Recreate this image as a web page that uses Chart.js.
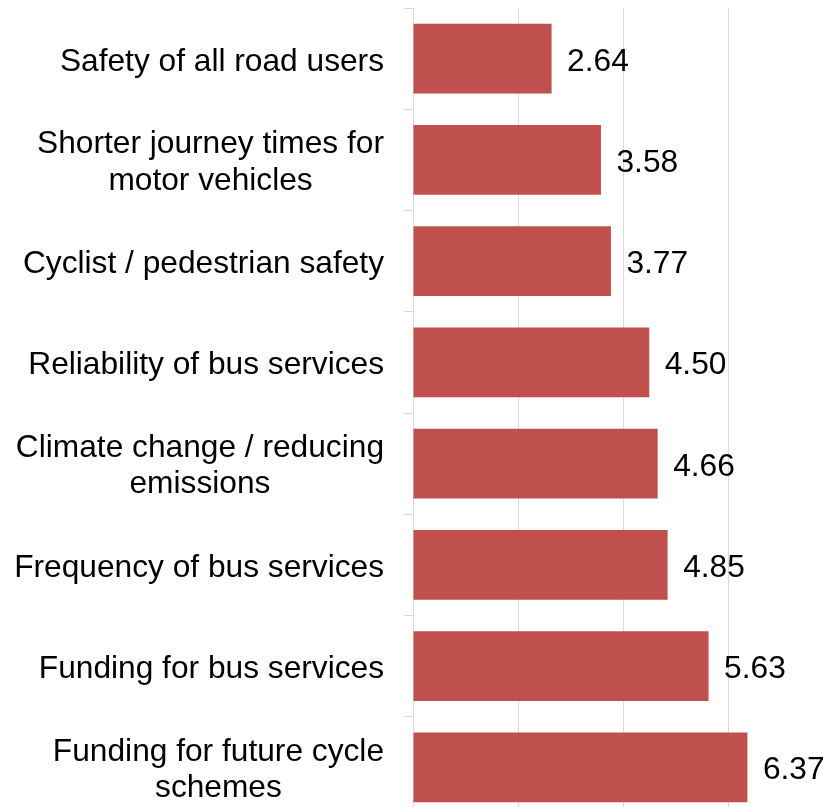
<!DOCTYPE html>
<html>
<head>
<meta charset="utf-8">
<script src="https://cdn.jsdelivr.net/npm/chart.js@4"></script>
<style>
  html, body { margin: 0; padding: 0; background: #fff; overflow: hidden; }
  #wrap { width: 826px; height: 807px; overflow: hidden; position: relative; }
  canvas { display: block; }
</style>
</head>
<body>
<div id="wrap"><canvas id="c" width="834" height="818" style="width:834px;height:818px"></canvas></div>
<script>
const categories = [
  ["Safety of all road users"],
  ["Shorter journey times for", "motor vehicles"],
  ["Cyclist / pedestrian safety"],
  ["Reliability of bus services"],
  ["Climate change / reducing", "emissions"],
  ["Frequency of bus services"],
  ["Funding for bus services"],
  ["Funding for future cycle", "schemes"]
];
const values = [2.64, 3.58, 3.77, 4.50, 4.66, 4.85, 5.63, 6.37];
const valueLabels = ["2.64", "3.58", "3.77", "4.50", "4.66", "4.85", "5.63", "6.37"];
const xTicks = [0, 2, 4, 6, 8];

const FONT = '"Liberation Sans", Arial, sans-serif';
const GRID = '#d9d9d9';

const labelPlugin = {
  id: 'customLabels',
  afterDatasetsDraw(chart) {
    const ctx = chart.ctx;
    const meta = chart.getDatasetMeta(0);
    const yScale = chart.scales.y;
    ctx.save();
    ctx.fillStyle = '#000';
    ctx.font = '31.7px ' + FONT;
    ctx.textBaseline = 'alphabetic';
    // value labels
    ctx.textAlign = 'left';
    meta.data.forEach((bar, i) => {
      ctx.fillText(valueLabels[i], bar.x + 15.5, bar.y + 12);
    });
    // category labels: block right-aligned, lines centred
    const rightX = yScale.right - 29;
    const lh = 36.6;
    ctx.textAlign = 'center';
    categories.forEach((lines, i) => {
      const cy = yScale.getPixelForValue(i);
      const n = lines.length;
      let w = 0;
      lines.forEach(l => { w = Math.max(w, ctx.measureText(l).width); });
      const cx = rightX - w / 2;
      lines.forEach((l, j) => {
        const base = cy + 12 - (n - 1) * 0.5 + (j - (n - 1) / 2) * lh;
        ctx.fillText(l, cx, base);
      });
    });
    ctx.restore();
  }
};

new Chart(document.getElementById('c'), {
  type: 'bar',
  data: {
    labels: categories,
    datasets: [{
      data: values,
      backgroundColor: '#c0504d',
      borderWidth: 0,
      categoryPercentage: 1.0,
      barPercentage: 0.69
    }]
  },
  options: {
    indexAxis: 'y',
    responsive: false,
    animation: false,
    events: [],
    layout: { padding: { top: 8, right: 1, left: 0, bottom: 0 } },
    plugins: { legend: { display: false }, tooltip: { enabled: false } },
    scales: {
      x: {
        min: 0,
        max: 8,
        afterBuildTicks(scale) { scale.ticks = xTicks.map(v => ({ value: v })); },
        ticks: { display: false },
        grid: { color: GRID, lineWidth: 1, drawTicks: false },
        border: { display: false }
      },
      y: {
        afterFit(scale) { scale.width = 413; },
        ticks: { display: false },
        grid: { offset: true, drawOnChartArea: false, drawTicks: true, tickLength: 9, color: GRID, lineWidth: 1 },
        border: { display: true, color: GRID, width: 1 }
      }
    }
  },
  plugins: [labelPlugin]
});
</script>
</body>
</html>
